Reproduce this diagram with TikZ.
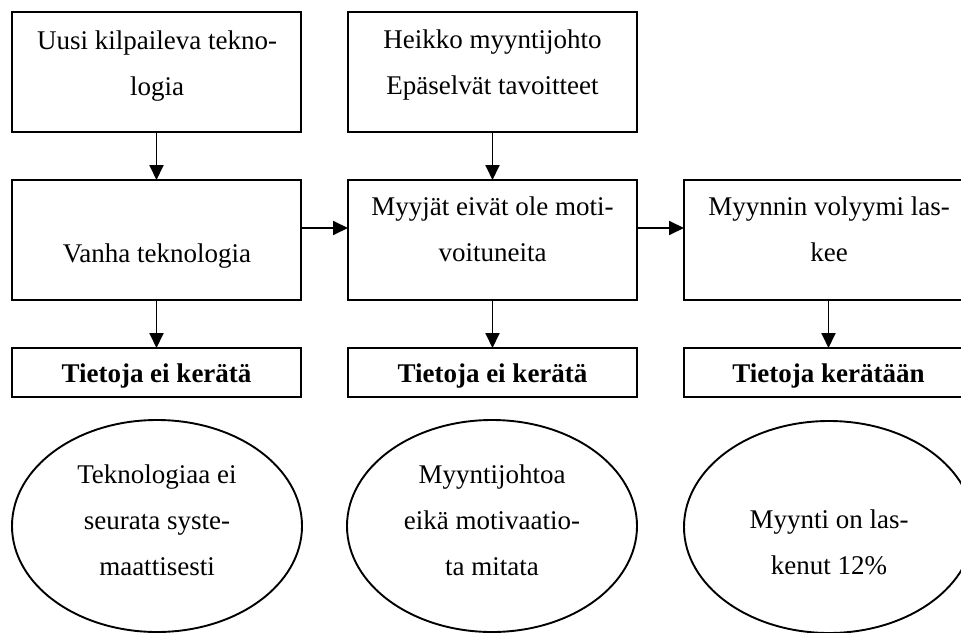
\documentclass[tikz,border=0pt]{standalone}
\usepackage{fontspec}
\setmainfont{Liberation Serif}
\usetikzlibrary{arrows.meta,shapes.geometric}
\newcommand{\mylines}[1]{\begin{tabular}[t]{@{}c@{}}#1\end{tabular}}
\begin{document}
\begin{tikzpicture}[x=1pt,y=-1pt,
  box/.style={draw, line width=1.9pt, rectangle, inner sep=0pt, outer sep=0pt, minimum width=289pt},
  bigbox/.style={box, minimum height=120pt},
  boldbox/.style={box, minimum height=49pt},
  oval/.style={draw, line width=1.9pt, ellipse, inner sep=0pt, outer sep=0pt, minimum width=290pt, minimum height=212pt},
  txt/.style={anchor=base, inner sep=0pt, font=\fontsize{27}{46}\selectfont},
  btxt/.style={txt, font=\fontsize{27}{46}\selectfont\bfseries},
  arr/.style={line width=1.9pt, -{Triangle[length=15pt,width=14pt]}}]
\useasboundingbox (0,0) rectangle (961,632);
\clip (0,0) rectangle (961,632);
% boxes
\node[bigbox] (top1) at (156.5,72) {};
\node[bigbox] (top2) at (492.5,72) {};
\node[bigbox] (mid1) at (156.5,240) {};
\node[bigbox] (mid2) at (492.5,240) {};
\node[bigbox] (mid3) at (828.5,240) {};
\node[boldbox] (bot1) at (156.5,372.5) {};
\node[boldbox] (bot2) at (492.5,372.5) {};
\node[boldbox] (bot3) at (828.5,372.5) {};
\node[oval] (ell1) at (157,526) {};
\node[oval] (ell2) at (492,526) {};
\node[oval] (ell3) at (829,527) {};
% texts
\node[txt] (top1t) at (157,49) {\mylines{Uusi kilpaileva tekno-\\logia}};
\node[txt] (top2t) at (492.5,48) {\mylines{Heikko myyntijohto\\Epäselvät tavoitteet}};
\node[txt] (mid1t) at (157,262) {Vanha teknologia};
\node[txt] (mid2t) at (492.5,215) {\mylines{Myyjät eivät ole moti-\\voituneita}};
\node[txt] (mid3t) at (829,215) {\mylines{Myynnin volyymi las-\\kee}};
\node[btxt] (bot1t) at (156.5,382) {Tietoja ei kerätä};
\node[btxt] (bot2t) at (492.5,382) {Tietoja ei kerätä};
\node[btxt] (bot3t) at (828.5,382) {Tietoja kerätään};
\node[txt] (ell1t) at (157,483) {\mylines{Teknologiaa ei\\seurata syste-\\maattisesti}};
\node[txt] (ell2t) at (492,483) {\mylines{Myyntijohtoa\\eikä motivaatio-\\ta mitata}};
\node[txt] (ell3t) at (829,528) {\mylines{Myynti on las-\\kenut 12\%}};
% arrows
\draw[arr] (top1.south) -- (mid1.north);
\draw[arr] (top2.south) -- (mid2.north);
\draw[arr] (mid1.south) -- (bot1.north);
\draw[arr] (mid2.south) -- (bot2.north);
\draw[arr] (mid3.south) -- (bot3.north);
\draw[arr] ([yshift=12pt]mid1.east) -- ([yshift=12pt]mid2.west);
\draw[arr] ([yshift=12pt]mid2.east) -- ([yshift=12pt]mid3.west);
\end{tikzpicture}
\end{document}
